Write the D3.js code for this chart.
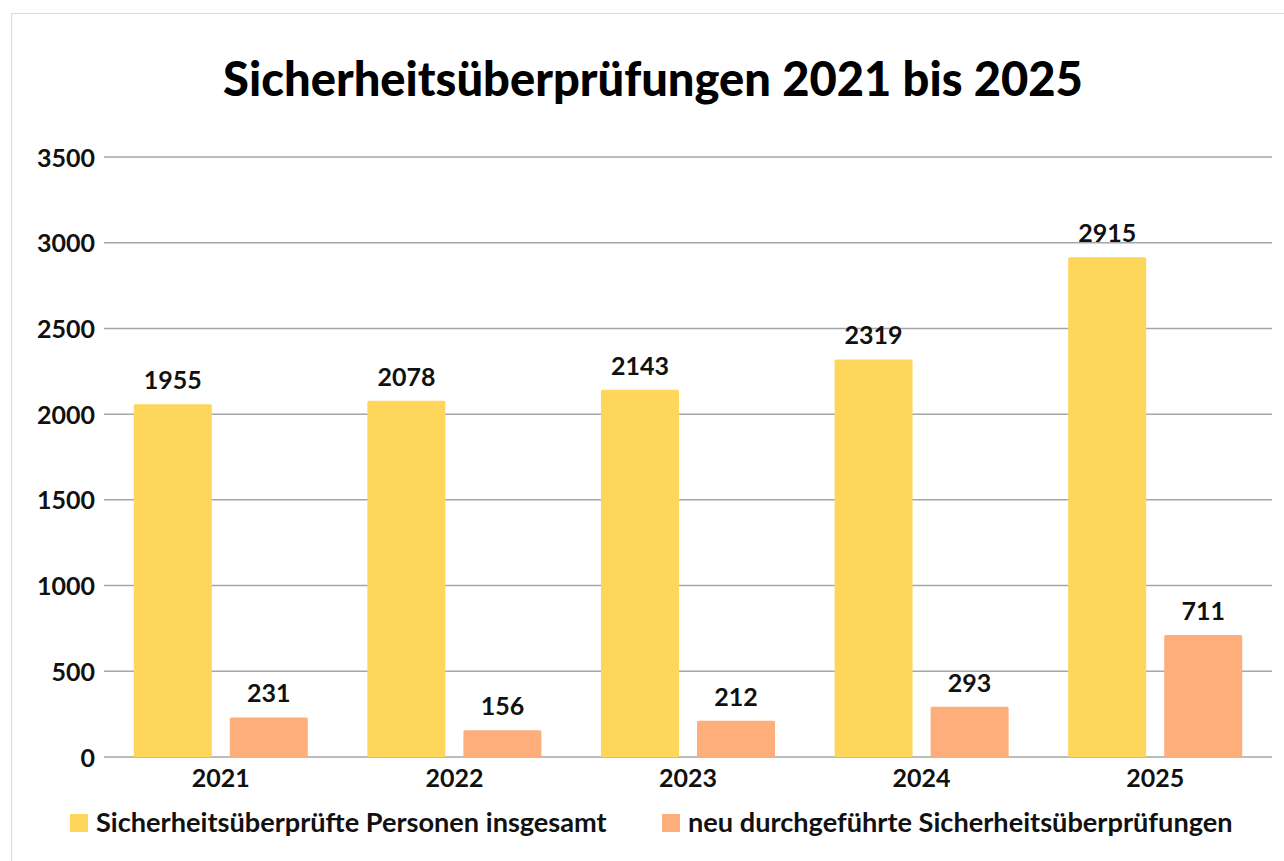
<!DOCTYPE html>
<html>
<head>
<meta charset="utf-8">
<script src="https://cdn.jsdelivr.net/npm/d3@7"></script>
<style>
  body { margin: 0; background: #fff; }
  svg { display: block; font-family: Lato, "Open Sans", sans-serif; }
</style>
</head>
<body>
<svg id="chart"></svg>
<script>
// Data
const years = ["2021", "2022", "2023", "2024", "2025"];
const seriesNames = ["Sicherheitsüberprüfte Personen insgesamt", "neu durchgeführte Sicherheitsüberprüfungen"];
// bar heights as drawn in the picture (the 2021 total bar stands above 2000 although it is labelled 1955)
const totalValues = [2058, 2078, 2143, 2319, 2915];
const newValues = [231, 156, 212, 293, 711];
const totalLabels = ["1955", "2078", "2143", "2319", "2915"];
const newLabels = ["231", "156", "212", "293", "711"];
const yTicks = [0, 500, 1000, 1500, 2000, 2500, 3000, 3500];
const colors = ["#fdd65b", "#fdae7b"];

/**
 * Scale the font size of a text element so that it spans the given width
 */
function fitWidth(sel, target) {
    let fs = parseFloat(sel.attr("font-size"));
    let w = sel.node().getComputedTextLength();
    sel.attr("font-size", fs * target / w);
}

function draw() {
    const width = 1284;
    const height = 861;
    const left = 104, right = 1272, top = 157, bottom = 757;

    const svg = d3.select("#chart")
    .attr("width", width)
    .attr("height", height);

    // light frame around the chart area
    svg.append("rect")
    .attr("x", 11.5).attr("y", 13.5)
    .attr("width", 1300).attr("height", 900)
    .attr("fill", "#fff")
    .attr("stroke", "#d9d9d9");

    // Scales
    const x = d3.scaleBand()
    .domain(years)
    .range([left, right]);

    const xInner = d3.scaleBand()
    .domain([0, 1])
    .range([0, x.bandwidth()])
    .paddingInner(0.1875)
    .paddingOuter(0.31);

    const y = d3.scaleLinear()
    .domain([0, 3500])
    .range([bottom, top]);

    // Gridlines
    svg.append("g")
    .selectAll("line")
    .data(yTicks)
    .enter()
    .append("line")
    .attr("x1", left)
    .attr("x2", right)
    .attr("y1", d => y(d))
    .attr("y2", d => y(d))
    .attr("stroke", "#a6a6a6")
    .attr("stroke-width", 1.5);

    // Y axis labels
    const yAxis = d3.axisLeft(y).tickValues(yTicks).tickFormat(d3.format("d")).tickSize(0).tickPadding(9);
    const gy = svg.append("g")
    .attr("transform", "translate(" + left + ",0)")
    .call(yAxis);
    gy.select(".domain").remove();
    gy.selectAll("text")
    .attr("font-family", "Lato, sans-serif")
    .attr("font-size", 25)
    .attr("font-weight", 700)
    .attr("fill", "#111")
    .attr("dy", "0.36em");

    // X axis labels
    const xAxis = d3.axisBottom(x).tickSize(0).tickPadding(12);
    const gx = svg.append("g")
    .attr("transform", "translate(0," + bottom + ")")
    .call(xAxis);
    gx.select(".domain").remove();
    gx.selectAll("text")
    .attr("font-family", "Lato, sans-serif")
    .attr("font-size", 25)
    .attr("font-weight", 700)
    .attr("fill", "#111");

    // Bars
    const series = [totalValues, newValues];
    const labels = [totalLabels, newLabels];
    series.forEach((vals, s) => {
        const g = svg.append("g");
        g.selectAll("rect")
        .data(vals)
        .enter()
        .append("rect")
        .attr("x", (d, i) => x(years[i]) + xInner(s))
        .attr("y", d => y(d))
        .attr("width", xInner.bandwidth())
        .attr("height", d => bottom - y(d))
        .attr("rx", 1.5)
        .attr("fill", colors[s]);

        g.selectAll("text")
        .data(vals)
        .enter()
        .append("text")
        .attr("x", (d, i) => x(years[i]) + xInner(s) + xInner.bandwidth() / 2)
        .attr("y", d => y(d) - 15)
        .attr("text-anchor", "middle")
        .attr("font-size", 25)
        .attr("font-weight", 700)
        .attr("fill", "#111")
        .text((d, i) => labels[s][i]);
    });

    // Title
    const title = svg.append("text")
    .attr("x", 653)
    .attr("y", 96)
    .attr("text-anchor", "middle")
    .attr("font-size", 48)
    .attr("font-weight", 900)
    .attr("fill", "#000")
    .text("Sicherheitsüberprüfungen 2021 bis 2025");
    fitWidth(title, 860);

    // Legend
    const legendX = [70, 662];
    const legendW = [511, 545];
    seriesNames.forEach((name, i) => {
        svg.append("rect")
        .attr("x", legendX[i])
        .attr("y", 814)
        .attr("width", 18)
        .attr("height", 18)
        .attr("fill", colors[i]);
        const t = svg.append("text")
        .attr("x", legendX[i] + 26)
        .attr("y", 832)
        .attr("font-size", 23)
        .attr("font-weight", 700)
        .attr("fill", "#111")
        .text(name);
        fitWidth(t, legendW[i]);
    });
}

draw();
</script>
</body>
</html>
